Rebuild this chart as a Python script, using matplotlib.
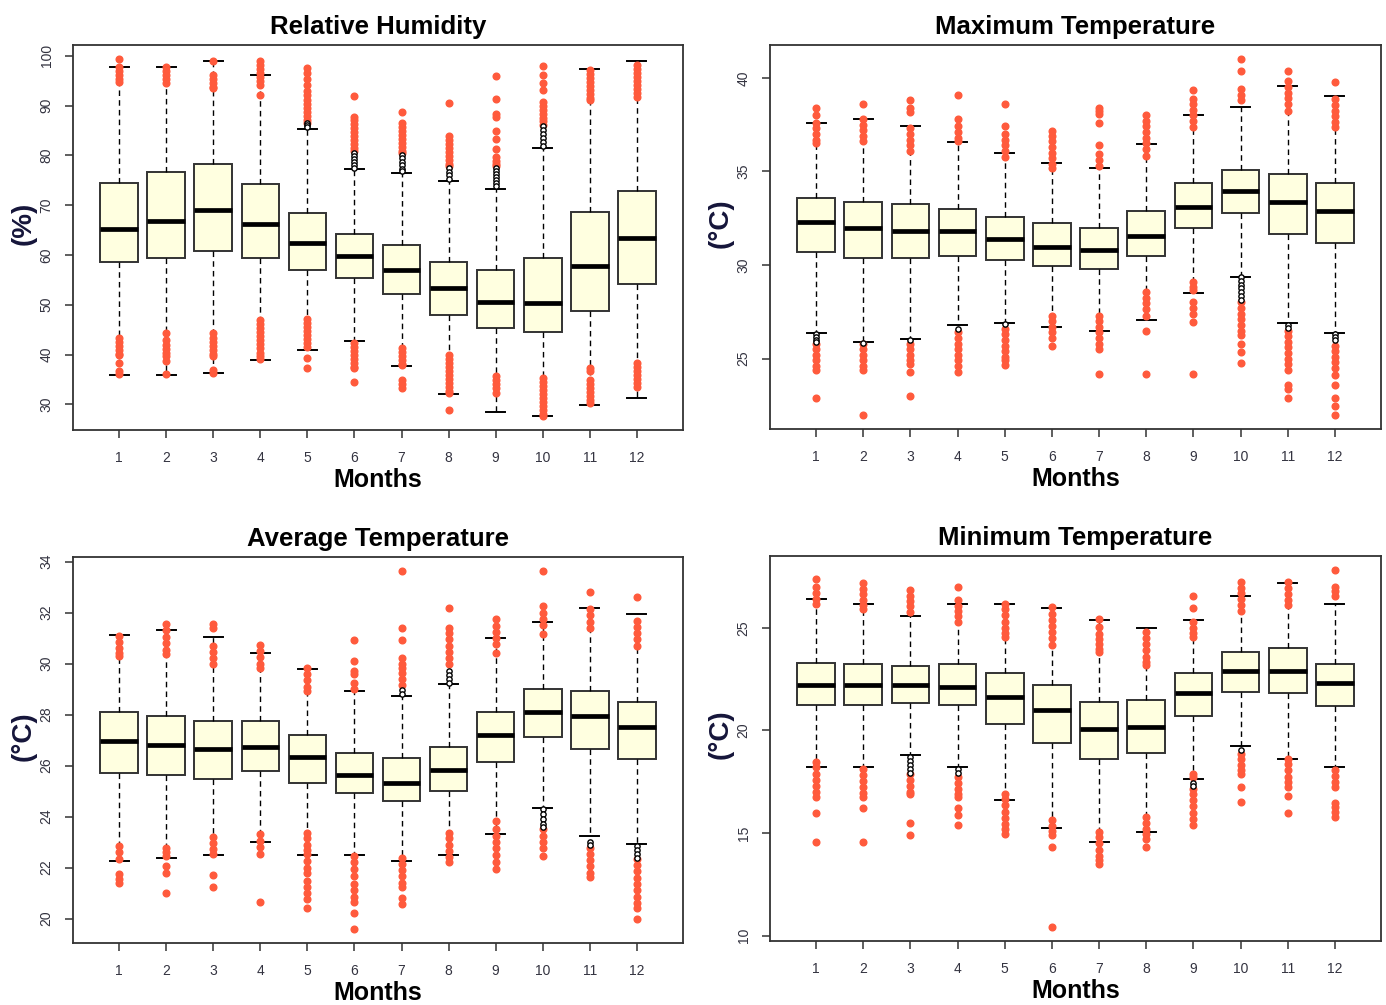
import matplotlib
matplotlib.use("Agg")
import matplotlib.pyplot as plt

plt.rcParams['font.family'] = ['Liberation Sans', 'DejaVu Sans']

months = [str(m) for m in range(1, 13)]

# ---------------- Relative Humidity ----------------
rh_q1 = [58.6, 59.3, 60.7, 59.3, 56.9, 55.3, 52.2, 47.9, 45.3, 44.5, 48.8, 54.2]
rh_med = [65.3, 66.8, 69.1, 66.2, 62.4, 59.7, 56.9, 53.3, 50.6, 50.4, 57.8, 63.3]
rh_q3 = [74.4, 76.6, 78.2, 74.2, 68.4, 64.2, 61.9, 58.6, 56.9, 59.3, 68.6, 72.9]
rh_lo = [35.9, 35.9, 36.2, 38.8, 40.9, 42.7, 37.7, 32.0, 28.5, 27.7, 29.9, 31.3]
rh_hi = [97.8, 97.8, 98.9, 96.2, 85.3, 77.3, 76.5, 74.9, 73.3, 81.4, 97.4, 98.9]
rh_out = [
    [99.3, 97.8, 97.0, 96.2, 95.4, 94.8, 43.3, 42.5, 41.7, 40.9, 40.2, 39.8, 38.2, 36.6, 36.0],
    [97.8, 97.0, 96.2, 95.4, 94.5, 44.3, 43.0, 42.0, 41.2, 40.4, 39.6, 38.6, 36.0],
    [98.9, 96.2, 95.4, 94.6, 93.8, 93.5, 44.3, 43.4, 42.6, 41.8, 41.0, 40.2, 39.6, 36.9, 36.3],
    [98.9, 98.2, 97.3, 96.5, 95.7, 94.9, 94.1, 92.2, 47.0, 46.2, 45.4, 44.6, 43.8, 43.0, 42.2, 41.4, 40.3, 39.6, 39.0],
    [97.5, 96.5, 95.3, 94.2, 93.0, 92.1, 91.2, 90.4, 89.6, 88.8, 88.0, 87.2, 86.5, 47.1, 46.3, 45.5, 44.7, 43.9, 43.1, 42.3, 41.6, 39.2, 37.2],
    [92.0, 87.8, 87.0, 86.2, 85.4, 84.6, 83.8, 83.0, 82.2, 81.4, 80.8, 42.3, 41.5, 40.7, 39.9, 39.1, 38.3, 37.5, 37.2, 34.4],
    [88.7, 86.5, 85.7, 84.9, 84.1, 83.3, 82.5, 81.7, 80.9, 80.4, 41.3, 40.5, 39.7, 38.9, 38.1, 37.9, 34.9, 34.1, 33.2],
    [90.5, 83.8, 83.0, 82.2, 81.4, 80.6, 79.8, 79.0, 78.2, 77.8, 39.9, 39.1, 38.3, 37.5, 36.7, 35.9, 35.1, 34.3, 33.5, 32.7, 32.2, 28.9],
    [96.0, 91.4, 88.3, 87.8, 84.8, 83.2, 81.2, 79.7, 78.9, 78.2, 77.8, 35.6, 34.8, 34.0, 33.2, 32.2],
    [98.0, 96.2, 94.5, 93.2, 90.8, 90.0, 89.2, 88.4, 87.6, 86.8, 86.1, 35.2, 34.4, 33.6, 32.8, 32.0, 31.2, 30.4, 29.6, 28.8, 28.0, 27.7],
    [97.2, 96.4, 95.6, 94.8, 94.0, 93.2, 92.4, 91.6, 91.2, 37.2, 36.6, 34.8, 34.0, 33.2, 32.4, 31.6, 30.8, 30.2],
    [98.2, 97.4, 96.6, 95.8, 95.0, 94.2, 93.4, 92.6, 91.8, 38.2, 37.4, 36.6, 35.8, 35.0, 34.2, 33.5],
]
rh_out_black = [[], [], [], [], [86.4, 86.0, 85.7],
                [80.4, 79.8, 79.2, 78.6, 78.0, 77.5],
                [80.1, 79.4, 78.7, 78.0, 77.3, 76.8],
                [77.4, 76.7, 76.0, 75.3],
                [77.4, 76.8, 76.2, 75.6, 75.0, 74.4, 73.8],
                [85.8, 85.0, 84.2, 83.4, 82.6, 81.8], [], []]
rh_ticks = [30, 40, 50, 60, 70, 80, 90, 100]

# ---------------- Maximum Temperature ----------------
mx_q1 = [30.67, 30.38, 30.38, 30.49, 30.26, 29.96, 29.78, 30.49, 31.97, 32.78, 31.68, 31.2]
mx_med = [32.29, 31.98, 31.8, 31.8, 31.38, 30.97, 30.79, 31.56, 33.09, 33.97, 33.39, 32.86]
mx_q3 = [33.57, 33.39, 33.28, 32.98, 32.55, 32.22, 31.98, 32.86, 34.4, 35.09, 34.88, 34.4]
mx_lo = [26.37, 25.89, 26.07, 26.78, 26.88, 26.67, 26.48, 27.08, 28.5, 29.37, 26.88, 26.37]
mx_hi = [37.58, 37.78, 37.4, 36.57, 35.98, 35.43, 35.17, 36.46, 38.0, 38.42, 39.57, 39.0]
mx_out = [
    [38.4, 38.0, 37.6, 37.3, 37.0, 36.7, 36.5, 25.8, 25.5, 25.2, 24.9, 24.6, 24.4, 22.9],
    [38.6, 37.8, 37.5, 37.2, 36.9, 36.6, 25.8, 25.5, 25.2, 24.9, 24.6, 24.4, 22.0],
    [38.8, 38.4, 38.15, 37.3, 37.0, 36.7, 36.4, 36.1, 25.8, 25.5, 25.2, 24.9, 24.7, 24.3, 23.0],
    [39.06, 37.8, 37.4, 37.1, 36.8, 36.6, 26.4, 26.1, 25.8, 25.5, 25.2, 24.9, 24.6, 24.3],
    [38.6, 37.4, 37.0, 36.7, 36.4, 36.1, 35.75, 26.6, 26.3, 26.0, 25.7, 25.4, 25.1, 24.9, 24.64],
    [37.17, 36.9, 36.6, 36.3, 36.0, 35.7, 35.4, 35.2, 27.3, 27.0, 26.7, 26.4, 26.1, 25.7],
    [38.36, 38.2, 38.06, 37.58, 36.4, 35.93, 35.6, 35.3, 27.3, 27.0, 26.7, 26.4, 26.1, 25.8, 25.5, 24.2],
    [38.0, 37.7, 37.4, 37.1, 36.8, 36.5, 36.2, 35.84, 28.55, 28.25, 27.95, 27.65, 27.3, 26.5, 24.2],
    [39.34, 38.86, 38.6, 38.3, 38.0, 37.7, 37.35, 29.1, 28.8, 28.64, 28.0, 27.7, 27.4, 26.95, 24.2],
    [40.99, 40.35, 39.4, 39.1, 38.8, 28.0, 27.7, 27.4, 27.1, 26.8, 26.5, 26.24, 25.8, 25.36, 24.77],
    [40.35, 39.84, 39.5, 39.2, 38.9, 38.6, 38.24, 26.5, 26.2, 25.9, 25.6, 25.3, 25.0, 24.7, 24.4, 23.6, 23.4, 22.9],
    [39.75, 38.86, 38.55, 38.25, 37.95, 37.65, 37.35, 25.7, 25.4, 25.1, 24.8, 24.5, 24.1, 23.6, 22.9, 22.46, 22.0],
]
mx_out_black = [[26.3, 26.15, 26.0, 25.9], [25.85], [26.0], [26.6], [26.87], [], [], [], [],
                [29.35, 29.15, 28.95, 28.75, 28.55, 28.35, 28.15], [26.8, 26.65], [26.3, 26.15, 26.0]]
mx_ticks = [25, 30, 35, 40]

# ---------------- Average Temperature ----------------
av_q1 = [25.71, 25.62, 25.49, 25.79, 25.31, 24.93, 24.61, 25.02, 26.14, 27.11, 26.64, 26.25]
av_med = [26.95, 26.82, 26.64, 26.72, 26.33, 25.63, 25.33, 25.82, 27.19, 28.12, 27.93, 27.5]
av_q3 = [28.12, 27.93, 27.73, 27.73, 27.2, 26.5, 26.29, 26.72, 28.12, 29.02, 28.93, 28.51]
av_lo = [22.24, 22.39, 22.5, 23.02, 22.5, 22.5, 22.24, 22.5, 23.32, 24.33, 23.23, 22.94]
av_hi = [31.11, 31.33, 31.05, 30.42, 29.8, 28.94, 28.72, 29.2, 31.02, 31.63, 32.18, 31.93]
av_out = [
    [31.08, 30.85, 30.6, 30.4, 30.3, 22.85, 22.6, 22.33, 21.74, 21.55, 21.41],
    [31.54, 31.3, 31.05, 30.8, 30.55, 30.37, 22.78, 22.6, 22.46, 22.07, 21.8, 21.0],
    [31.54, 31.41, 30.69, 30.45, 30.2, 29.97, 23.18, 22.95, 22.72, 22.52, 21.71, 21.23],
    [30.72, 30.5, 30.25, 30.0, 29.84, 23.3, 23.05, 22.8, 22.52, 20.63],
    [29.84, 29.6, 29.35, 29.1, 28.93, 23.37, 23.15, 22.9, 22.7, 22.52, 22.26, 22.0, 21.8, 21.48, 21.25, 21.0, 20.76, 20.4],
    [30.93, 30.1, 29.7, 29.6, 29.25, 29.0, 22.46, 22.2, 21.95, 21.67, 21.35, 21.1, 20.85, 20.63, 20.2, 19.6],
    [33.62, 31.41, 30.93, 30.2, 30.0, 29.84, 29.65, 29.4, 29.15, 22.39, 22.15, 21.9, 21.65, 21.4, 21.22, 20.82, 20.56],
    [32.18, 31.41, 31.2, 30.95, 30.7, 30.45, 30.2, 29.97, 23.37, 23.15, 22.9, 22.65, 22.4, 22.2],
    [31.74, 31.48, 31.25, 31.0, 30.75, 30.43, 23.83, 23.5, 23.25, 23.0, 22.75, 22.5, 22.2, 21.93],
    [33.62, 32.24, 32.0, 31.75, 31.5, 31.15, 23.5, 23.25, 23.0, 22.75, 22.46],
    [32.8, 32.13, 31.9, 31.65, 31.41, 22.78, 22.55, 22.3, 22.05, 21.8, 21.61],
    [32.61, 31.67, 31.45, 31.2, 30.95, 30.69, 22.33, 22.1, 21.85, 21.6, 21.35, 21.1, 20.85, 20.6, 20.43, 20.0],
]
av_out_black = [[], [], [], [], [], [], [28.95, 28.8], [29.7, 29.55, 29.4, 29.25], [],
                [24.29, 24.1, 23.9, 23.7, 23.57], [23.0, 22.9], [22.85, 22.7, 22.55, 22.39]]
av_ticks = [20, 22, 24, 26, 28, 30, 32, 34]

# ---------------- Minimum Temperature ----------------
mn_q1 = [21.24, 21.22, 21.35, 21.22, 20.31, 19.4, 18.59, 18.92, 20.69, 21.87, 21.82, 21.17]
mn_med = [22.21, 22.21, 22.21, 22.1, 21.61, 21.01, 20.05, 20.15, 21.84, 22.91, 22.91, 22.32]
mn_q3 = [23.28, 23.22, 23.12, 23.22, 22.79, 22.21, 21.38, 21.5, 22.79, 23.82, 23.99, 23.22]
mn_lo = [18.22, 18.22, 18.8, 18.22, 16.6, 15.25, 14.56, 15.03, 17.62, 19.24, 18.59, 18.22]
mn_hi = [26.39, 26.18, 25.58, 26.18, 26.18, 25.97, 25.4, 25.0, 25.4, 26.56, 27.17, 26.18]
mn_out = [
    [27.38, 26.98, 26.7, 26.42, 26.17, 18.46, 18.2, 17.9, 17.6, 17.3, 17.0, 16.76, 15.98, 14.57],
    [27.17, 26.9, 26.62, 26.35, 26.1, 25.92, 18.14, 17.85, 17.55, 17.25, 16.95, 16.76, 16.23, 14.57],
    [26.82, 26.55, 26.3, 26.05, 25.76, 17.9, 17.6, 17.3, 17.0, 16.92, 15.5, 14.9],
    [27.0, 26.33, 26.05, 25.8, 25.55, 25.27, 17.73, 17.45, 17.15, 16.9, 16.76, 16.2, 15.87, 15.38],
    [26.17, 25.9, 25.6, 25.3, 25.0, 24.75, 24.55, 16.92, 16.65, 16.35, 16.05, 15.75, 15.45, 15.2, 14.98],
    [26.0, 25.68, 25.4, 25.1, 24.8, 24.5, 24.14, 15.63, 15.35, 15.1, 14.9, 14.3, 10.44],
    [25.44, 25.03, 24.71, 24.45, 24.2, 23.95, 23.82, 15.06, 14.8, 14.5, 14.2, 13.9, 13.7, 13.49],
    [24.79, 24.5, 24.2, 23.9, 23.6, 23.35, 23.17, 15.79, 15.5, 15.2, 14.95, 14.73, 14.33],
    [26.57, 25.97, 25.27, 25.0, 24.75, 24.55, 17.9, 17.73, 17.17, 16.9, 16.6, 16.3, 16.0, 15.7, 15.38],
    [27.22, 26.95, 26.7, 26.4, 26.1, 25.84, 18.87, 18.6, 18.3, 18.05, 17.9, 17.25, 16.52],
    [27.22, 26.95, 26.65, 26.35, 26.09, 18.63, 18.35, 18.05, 17.75, 17.5, 17.25, 16.79, 15.98],
    [27.8, 27.0, 26.8, 26.57, 18.06, 17.8, 17.5, 17.25, 16.47, 16.28, 16.03, 15.79],
]
mn_out_black = [[], [], [18.7, 18.5, 18.3, 18.1, 17.95], [18.1, 17.95], [], [], [], [],
                [17.45, 17.3], [19.05], [], []]
mn_ticks = [10, 15, 20, 25]

panels = [
    ("Relative Humidity", "(%)", rh_q1, rh_med, rh_q3, rh_lo, rh_hi, rh_out, rh_out_black, rh_ticks),
    ("Maximum Temperature", "(°C)", mx_q1, mx_med, mx_q3, mx_lo, mx_hi, mx_out, mx_out_black, mx_ticks),
    ("Average Temperature", "(°C)", av_q1, av_med, av_q3, av_lo, av_hi, av_out, av_out_black, av_ticks),
    ("Minimum Temperature", "(°C)", mn_q1, mn_med, mn_q3, mn_lo, mn_hi, mn_out, mn_out_black, mn_ticks),
]

W, H = 1386, 1005
fig = plt.figure(figsize=(W / 100, H / 100), dpi=100)
# axes rectangles in pixels: left, top, right, bottom
rects = [(73, 45, 683, 430), (770, 45, 1381, 429), (73, 557, 683, 943), (770, 556, 1381, 941)]

RED = "#FF5A3C"
EDGE = "#333333"
TXT = "#333340"

for (title, ylab, q1, med, q3, lo, hi, out, outb, yt), (l, t, r, b) in zip(panels, rects):
    ax = fig.add_axes([l / W, 1 - b / H, (r - l) / W, (b - t) / H])
    stats = []
    for i in range(12):
        stats.append(dict(med=med[i], q1=q1[i], q3=q3[i], whislo=lo[i], whishi=hi[i], fliers=out[i]))
    pos = list(range(1, 13))
    ax.bxp(stats, positions=pos, widths=0.8, capwidths=0.4, patch_artist=True,
           boxprops=dict(facecolor="#FFFFE0", edgecolor=EDGE, linewidth=1.4),
           medianprops=dict(color="black", linewidth=3.4, solid_capstyle="butt"),
           whiskerprops=dict(color="black", linewidth=1.0, linestyle=(0, (4, 3))),
           capprops=dict(color="black", linewidth=1.4),
           flierprops=dict(marker="o", markerfacecolor=RED, markeredgecolor=RED,
                           markersize=4.8, linestyle="none"),
           zorder=2)
    for i in range(12):
        if outb[i]:
            ax.plot([pos[i]] * len(outb[i]), outb[i], linestyle="none", marker="o",
                    markersize=3.8, markerfacecolor="white", markeredgecolor="black",
                    markeredgewidth=1.0, zorder=4)
    allv = lo + hi + [v for o in out for v in o]
    ymin, ymax = min(allv), max(allv)
    pad = 0.04 * (ymax - ymin)
    ax.set_ylim(ymin - pad, ymax + pad)
    ax.set_xlim(0.5 - 0.48, 12.5 + 0.48)
    ax.set_xticks(pos)
    ax.set_xticklabels(months, fontsize=10, color=TXT)
    ax.set_yticks(yt)
    ax.set_yticklabels([str(v) for v in yt], fontsize=10, color=TXT, rotation=90, va="center")
    ax.tick_params(axis="both", length=6, width=1.1, color=EDGE)
    ax.tick_params(axis="y", pad=8)
    ax.tick_params(axis="x", pad=9)
    for s in ax.spines.values():
        s.set_color(EDGE)
        s.set_linewidth(1.3)
    ax.set_title(title, fontsize=18.5, fontweight="bold", pad=8)
    ax.set_xlabel("Months", fontsize=18, fontweight="bold", labelpad=2)
    ax.set_ylabel(ylab, fontsize=20, fontweight="bold", color="#15153a")
    ax.yaxis.set_label_coords(-0.06, 0.537)

fig.savefig("out.png", dpi=100)
